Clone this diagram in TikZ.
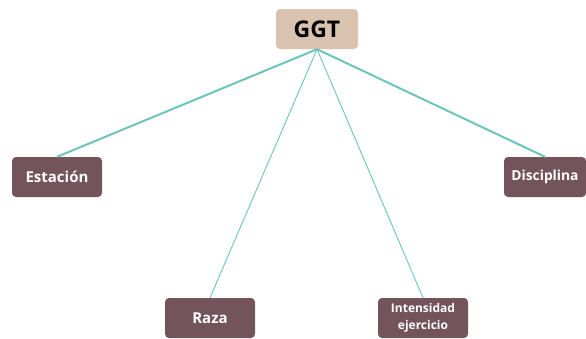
\documentclass[tikz,border=0pt]{standalone}
\usepackage{fontspec}
\setmainfont{Open Sans}
\usepackage{xcolor}
\definecolor{rootfill}{HTML}{D9C3AE}
\definecolor{leaffill}{HTML}{73545A}
\definecolor{linkcol}{HTML}{6CC4BC}

\begin{document}
\begin{tikzpicture}[x=1pt, y=-1pt,
    root/.style={fill=rootfill, rounded corners=4pt, minimum width=82pt, minimum height=40pt, font=\bfseries\fontsize{23}{25}\selectfont, text=black},
    leaf/.style={fill=leaffill, rounded corners=4pt, minimum width=90pt, minimum height=40pt, inner sep=1pt, font=\bfseries\fontsize{15}{17}\selectfont, text=white, align=center},
    link/.style={draw=linkcol}]
    \useasboundingbox (0,0) rectangle (586,338);
    \node[root] (ggt) at (317,29) {GGT};
    \node[leaf] (est) at (57,177) {Estación};
    \node[leaf, minimum width=82pt, font=\bfseries\fontsize{13.8}{16}\selectfont] (dis) at (545,177) {Disciplina};
    \node[leaf] (raza) at (210,318) {Raza};
    \node[leaf, font=\bfseries\fontsize{12}{17}\selectfont] (int) at (423,318) {Intensidad\\ejercicio};
    \draw[link, line width=2pt] (ggt.south) -- (est.north);
    \draw[link, line width=2pt] (ggt.south) -- (dis.north);
    \draw[link, line width=0.9pt] (ggt.south) -- (raza.north);
    \draw[link, line width=0.9pt] (ggt.south) -- (int.north);
\end{tikzpicture}
\end{document}
